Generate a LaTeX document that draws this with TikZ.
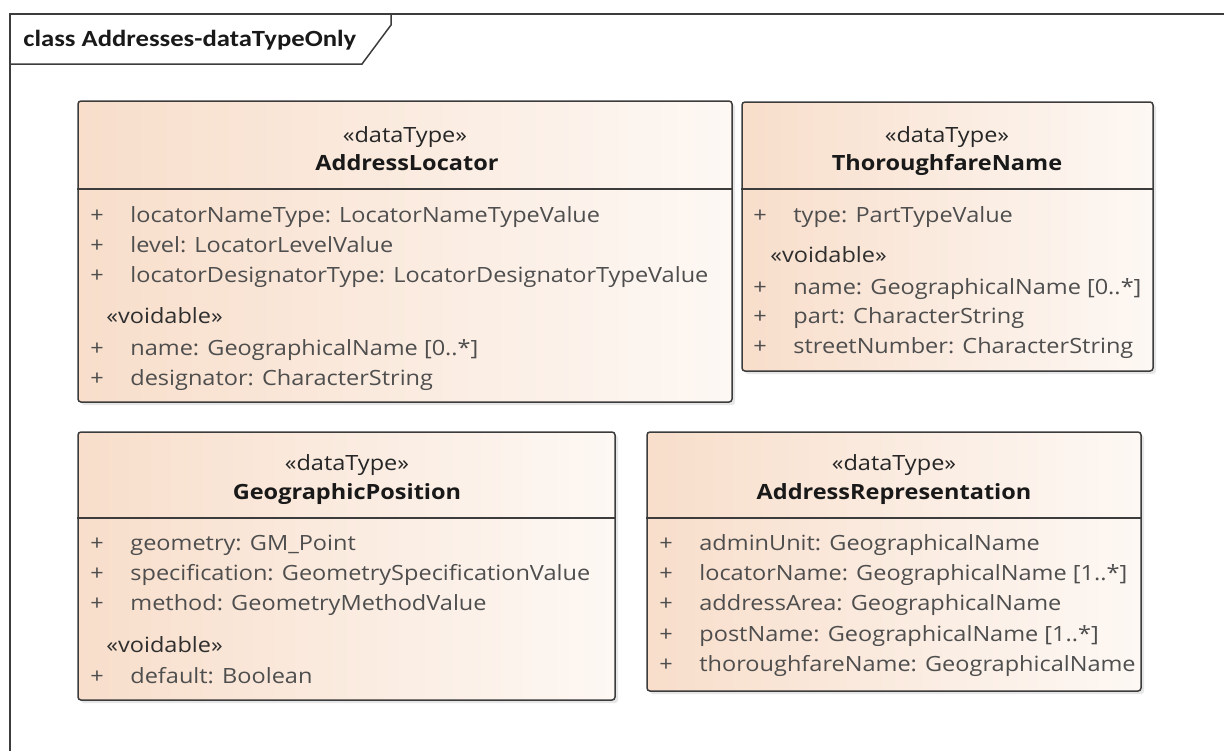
\documentclass[tikz,border=0pt]{standalone}
\usepackage{fontspec}
\setmainfont[FakeStretch=1.12]{Open Sans}
\newfontfamily\titlefont[FakeStretch=1.15]{Carlito}
\usetikzlibrary{fit,shadows}
\definecolor{peach}{RGB}{248,222,203}
\definecolor{peachlight}{RGB}{253,248,244}
\definecolor{attrgray}{RGB}{78,78,78}
\definecolor{linegray}{RGB}{60,60,60}
\newcommand*{\umlfont}{\fontsize{10.5}{12}\selectfont}
\newcommand*{\attr}[1]{\makebox[20pt][l]{+}#1}
\tikzstyle{classbox} = [draw=linegray, line width=0.75pt, rounded corners=1.5pt, inner sep=0pt, left color=peach, right color=peachlight, drop shadow={shadow xshift=1.5pt, shadow yshift=-1.5pt, opacity=0.2}]
\tikzstyle{stereo} = [inner sep=0pt, anchor=base, font=\umlfont, text=black!85]
\tikzstyle{cname} = [inner sep=0pt, anchor=base, font=\umlfont\bfseries, text=black!90]
\tikzstyle{attribute} = [inner sep=0pt, anchor=base west, font=\umlfont, text=attrgray]
\tikzstyle{group} = [inner sep=0pt, anchor=base west, font=\umlfont, text=black!82]
\tikzstyle{sep} = [draw=linegray, line width=0.75pt]

\begin{document}
\begin{tikzpicture}[x=0.5pt, y=-0.5pt]
    \useasboundingbox (0,0) rectangle (1224,751);
    % frame of the diagram
    \draw [linegray, line width=0.75pt] (1224,14) -- (10,14) -- (10,751);
    \draw [linegray, line width=0.75pt] (10,64) -- (362,64) -- (391,25) -- (391,14);
    \node [inner sep=0pt, anchor=base west, font=\titlefont\fontsize{11.6}{13}\selectfont\bfseries, text=black!90] (title) at (23,46) {class Addresses-dataTypeOnly};

    % AddressLocator
    \node [classbox, fit={(78,101) (732,402)}] (al) {};
    \draw [sep] (al.west |- 0,189) -- (al.east |- 0,189);
    \node [stereo] (al-st) at (405,142) {«dataType»};
    \node [cname] (al-nm) at (407,170) {AddressLocator};
    \node [attribute] (al-a1) at (90,222) {\attr{locatorNameType: LocatorNameTypeValue}};
    \node [attribute] (al-a2) at (90,252) {\attr{level: LocatorLevelValue}};
    \node [attribute] (al-a3) at (90,282) {\attr{locatorDesignatorType: LocatorDesignatorTypeValue}};
    \node [group] (al-vd) at (106,323) {«voidable»};
    \node [attribute] (al-a4) at (90,355) {\attr{name: GeographicalName [0..*]}};
    \node [attribute] (al-a5) at (90,385) {\attr{designator: CharacterString}};

    % ThoroughfareName
    \node [classbox, fit={(742,102) (1153,371)}] (tn) {};
    \draw [sep] (tn.west |- 0,189) -- (tn.east |- 0,189);
    \node [stereo] (tn-st) at (947,142) {«dataType»};
    \node [cname] (tn-nm) at (947,170) {ThoroughfareName};
    \node [attribute] (tn-a1) at (753,222) {\attr{type: PartTypeValue}};
    \node [group] (tn-vd) at (770,262) {«voidable»};
    \node [attribute] (tn-a2) at (753,294) {\attr{name: GeographicalName [0..*]}};
    \node [attribute] (tn-a3) at (753,323) {\attr{part: CharacterString}};
    \node [attribute] (tn-a4) at (753,353) {\attr{streetNumber: CharacterString}};

    % GeographicPosition
    \node [classbox, fit={(78,432) (615,700)}] (gp) {};
    \draw [sep] (gp.west |- 0,518) -- (gp.east |- 0,518);
    \node [stereo] (gp-st) at (347,470) {«dataType»};
    \node [cname] (gp-nm) at (347,499) {GeographicPosition};
    \node [attribute] (gp-a1) at (90,550) {\attr{geometry: GM\_Point}};
    \node [attribute] (gp-a2) at (90,580) {\attr{specification: GeometrySpecificationValue}};
    \node [attribute] (gp-a3) at (90,610) {\attr{method: GeometryMethodValue}};
    \node [group] (gp-vd) at (106,652) {«voidable»};
    \node [attribute] (gp-a4) at (90,683) {\attr{default: Boolean}};

    % AddressRepresentation
    \node [classbox, fit={(647,432) (1141,691)}] (ar) {};
    \draw [sep] (ar.west |- 0,518) -- (ar.east |- 0,518);
    \node [stereo] (ar-st) at (894,470) {«dataType»};
    \node [cname] (ar-nm) at (894,499) {AddressRepresentation};
    \node [attribute] (ar-a1) at (659,550) {\attr{adminUnit: GeographicalName}};
    \node [attribute] (ar-a2) at (659,580) {\attr{locatorName: GeographicalName [1..*]}};
    \node [attribute] (ar-a3) at (659,610) {\attr{addressArea: GeographicalName}};
    \node [attribute] (ar-a4) at (659,641) {\attr{postName: GeographicalName [1..*]}};
    \node [attribute] (ar-a5) at (659,671) {\attr{thoroughfareName: GeographicalName}};
\end{tikzpicture}
\end{document}
